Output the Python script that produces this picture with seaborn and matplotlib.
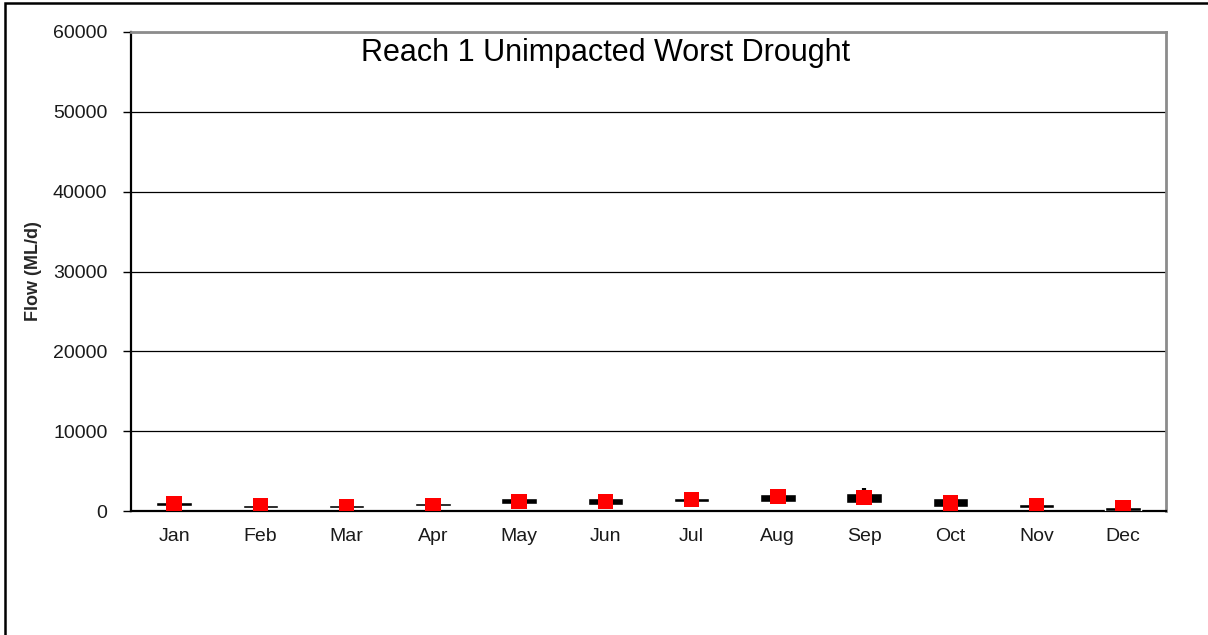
import matplotlib
matplotlib.use('Agg')
import matplotlib.pyplot as plt
from matplotlib.patches import Rectangle
import numpy as np
import pandas as pd
import seaborn as sns

# monthly flow statistics (ML/d)
months = ['Jan', 'Feb', 'Mar', 'Apr', 'May', 'Jun', 'Jul', 'Aug', 'Sep', 'Oct', 'Nov', 'Dec']
box_low = [660, 375, 375, 590, 840, 715, 1165, 1130, 960, 500, 415, 0]
box_high = [1165, 715, 715, 1000, 1590, 1590, 1630, 2130, 2220, 1590, 840, 500]
whisker_high = [1165, 715, 715, 1000, 1590, 1590, 1630, 2130, 2920, 1590, 840, 500]
median = [960, 660, 540, 660, 1165, 1165, 1465, 1800, 1670, 1000, 660, 375]

df = pd.DataFrame({'month': months, 'low': box_low, 'high': box_high,
                   'whisk': whisker_high, 'median': median})

sns.set_style('white')
plt.rcParams['font.family'] = ['Liberation Sans', 'DejaVu Sans']

fig = plt.figure(figsize=(12.08, 6.35), dpi=100)
ax = fig.add_axes([131 / 1208, 1 - 511 / 635, (1166 - 131) / 1208, (511 - 32) / 635])

x = np.arange(len(months))
ax.vlines(x, df['high'], df['whisk'], color='black', linewidth=3, zorder=3)
ax.bar(x, df['high'] - df['low'], bottom=df['low'], width=0.41, color='black', zorder=3)
sns.scatterplot(data=df, x=x, y='median', marker='s', color='#ff0000', s=125,
                edgecolor='none', ax=ax, zorder=4, legend=False)

ax.set_xlim(-0.5, len(months) - 0.5)
ax.set_ylim(0, 60000)
ax.set_yticks(range(0, 60001, 10000))
ax.set_yticklabels([str(v) for v in range(0, 60001, 10000)], fontsize=14, color='#1a1a1a')
ax.set_xticks(x)
ax.set_xticklabels(months, fontsize=14, color='#1a1a1a')
ax.set_xticks(np.arange(-0.5, len(months), 1), minor=True)
ax.tick_params(axis='x', which='major', length=0, pad=12)
ax.tick_params(axis='x', which='minor', length=6, width=1, direction='out', color='black')
ax.tick_params(axis='y', length=6, width=1, direction='out', color='black', left=True, pad=11)
ax.yaxis.grid(True, color='black', linewidth=0.9)
ax.set_axisbelow(True)

ax.set_ylabel('Flow (ML/d)', fontsize=13, fontweight='bold', labelpad=8)
ax.set_xlabel('')

for side in ['left', 'bottom']:
    ax.spines[side].set_color('black')
    ax.spines[side].set_linewidth(1.6)
for side in ['top', 'right']:
    ax.spines[side].set_color('#8c8c8c')
    ax.spines[side].set_linewidth(2)

ax.text((606 - 131) / 1035, (511 - 61) / 479, 'Reach 1 Unimpacted Worst Drought',
        transform=ax.transAxes, ha='center', va='baseline', fontsize=22, color='black')

# outer frame of the original chart
fig.add_artist(Rectangle((5 / 1208, -0.05), 1.2, 1.05 - 3 / 635, transform=fig.transFigure,
                         fill=False, edgecolor='black', linewidth=1.8, clip_on=False))

fig.savefig('out.png', dpi=100)
